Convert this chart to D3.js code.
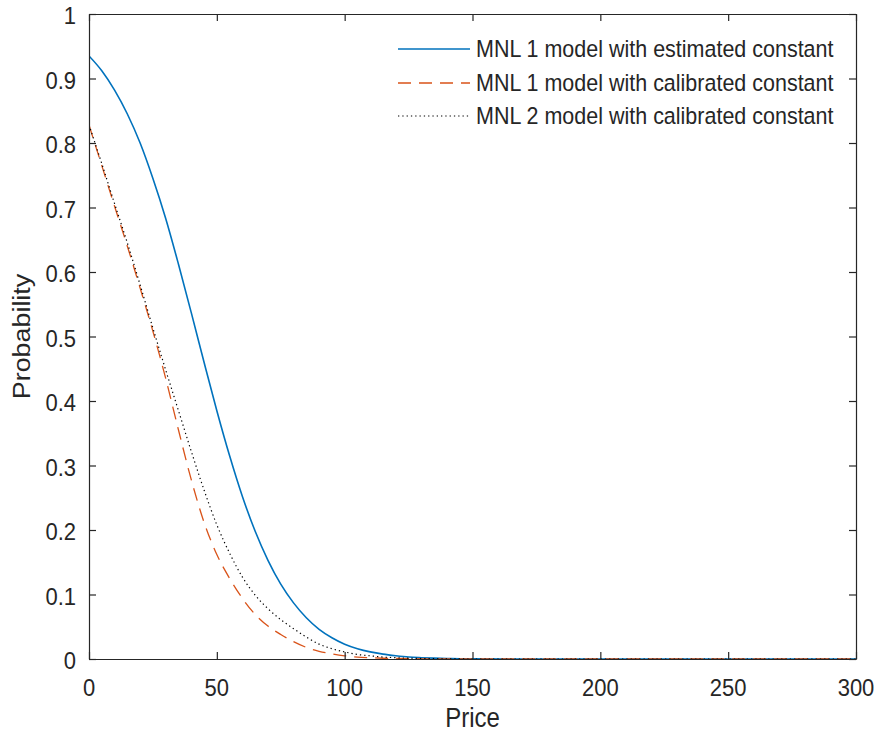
<!DOCTYPE html>
<html>
<head>
<meta charset="utf-8">
<script src="https://cdn.jsdelivr.net/npm/d3@7"></script>
<style>
  body { margin: 0; background: #fff; }
  text { font-family: "Liberation Sans", Arial, Helvetica, sans-serif; fill: #262626; }
</style>
</head>
<body>
<svg id="chart" width="877" height="738"></svg>
<script>
// ---- data ----
const price = [0,5,10,15,20,25,30,35,40,45,50,55,60,65,70,75,80,85,90,95,100,105,110,115,120,125,130,135,140,145,150,175,200,250,300];
const mnl1Estimated = [0.935,0.912,0.882,0.845,0.800,0.745,0.683,0.612,0.537,0.460,0.385,0.315,0.252,0.198,0.153,0.116,0.087,0.064,0.046,0.033,0.023,0.016,0.011,0.0075,0.005,0.003,0.002,0.0013,0.0008,0.0005,0.0003,0,0,0,0];
const mnl1Calibrated = [0.828,0.765,0.702,0.640,0.575,0.508,0.435,0.355,0.278,0.212,0.162,0.125,0.094,0.069,0.051,0.038,0.027,0.018,0.012,0.008,0.005,0.003,0.002,0.0012,0.0008,0.0005,0.0003,0.0002,0.0001,0,0,0,0,0,0];
const mnl2Calibrated = [0.828,0.768,0.706,0.645,0.580,0.513,0.448,0.385,0.322,0.262,0.208,0.164,0.127,0.099,0.078,0.061,0.047,0.034,0.023,0.016,0.011,0.007,0.005,0.003,0.002,0.0013,0.0008,0.0005,0.0003,0.0001,0,0,0,0,0];
const seriesNames = ["MNL 1 model with estimated constant","MNL 1 model with calibrated constant","MNL 2 model with calibrated constant"];
const xTicks = [0,50,100,150,200,250,300];
const yTicks = [0,0.1,0.2,0.3,0.4,0.5,0.6,0.7,0.8,0.9,1];
const yTickLabels = ["0","0.1","0.2","0.3","0.4","0.5","0.6","0.7","0.8","0.9","1"];
const xLabel = "Price", yLabel = "Probability";

// ---- layout ----
const L = 89, R = 856, T = 14, B = 659;
const SY = 1.12; // vertical text stretch of the reference
const svg = d3.select("#chart");
const x = d3.scaleLinear().domain([0,300]).range([L,R]);
const y = d3.scaleLinear().domain([0,1]).range([B,T]);
const axisColor = "#262626";
const tickLen = 7;

function stxt(g, tx, ty, str, size, anchor, rot) {
  return g.append("text")
    .attr("transform", `translate(${tx},${ty}) scale(1,${SY})` + (rot ? ` rotate(${rot})` : ""))
    .attr("font-size", size)
    .attr("text-anchor", anchor)
    .attr("dominant-baseline", "central")
    .text(str);
}

// curves
const defs = svg.append("defs");
defs.append("clipPath").attr("id","clip").append("rect")
  .attr("x", L).attr("y", T).attr("width", R-L).attr("height", B-T);

const series = [
  {name: seriesNames[0], values: mnl1Estimated, color: "#0072BD", width: 1.6, dash: null},
  {name: seriesNames[1], values: mnl1Calibrated, color: "#D95319", width: 1.3, dash: "13,8"},
  {name: seriesNames[2], values: mnl2Calibrated, color: "#000000", width: 1.2, dash: "1.3,3"}
];
const line = d3.line().x(d => x(d[0])).y(d => y(d[1])).curve(d3.curveMonotoneX);
const plot = svg.append("g").attr("clip-path","url(#clip)");
series.forEach(s => {
  plot.append("path")
    .datum(price.map((p,i) => [p, s.values[i]]))
    .attr("d", line)
    .attr("fill","none")
    .attr("stroke", s.color)
    .attr("stroke-width", s.width)
    .attr("stroke-dasharray", s.dash);
});

// axes: ticks inside on all four sides
const axB = svg.append("g").attr("transform", `translate(0,${B})`)
  .call(d3.axisBottom(x).tickValues(xTicks).tickSizeInner(-tickLen).tickSizeOuter(0).tickFormat(""));
const axT = svg.append("g").attr("transform", `translate(0,${T})`)
  .call(d3.axisTop(x).tickValues(xTicks).tickSizeInner(-tickLen).tickSizeOuter(0).tickFormat(""));
const axL = svg.append("g").attr("transform", `translate(${L},0)`)
  .call(d3.axisLeft(y).tickValues(yTicks).tickSizeInner(-tickLen).tickSizeOuter(0).tickFormat(""));
const axR = svg.append("g").attr("transform", `translate(${R},0)`)
  .call(d3.axisRight(y).tickValues(yTicks).tickSizeInner(-tickLen).tickSizeOuter(0).tickFormat(""));
[axB, axT, axL, axR].forEach(g => {
  g.selectAll("path.domain").attr("stroke", axisColor).attr("stroke-width", 1.2);
  g.selectAll(".tick line").attr("stroke", axisColor).attr("stroke-width", 1.2);
});

// tick labels
const lab = svg.append("g");
xTicks.forEach(v => stxt(lab, x(v), 688, String(v), 22, "middle"));
yTicks.forEach((v,i) => stxt(lab, 76, y(v) + 2, yTickLabels[i], 22, "end"));

// axis labels
stxt(lab, (L+R)/2, 718, xLabel, 24, "middle");
stxt(lab, 22, (T+B)/2, yLabel, 24, "middle", -90);

// legend (no box)
const legY = [49, 83, 116];
const leg = svg.append("g");
series.forEach((s,i) => {
  leg.append("line")
    .attr("x1", 398).attr("x2", 470).attr("y1", legY[i]).attr("y2", legY[i])
    .attr("stroke", s.color).attr("stroke-width", s.width)
    .attr("stroke-dasharray", s.dash);
  stxt(leg, 476, legY[i], s.name, 21.5, "start");
});
</script>
</body>
</html>
